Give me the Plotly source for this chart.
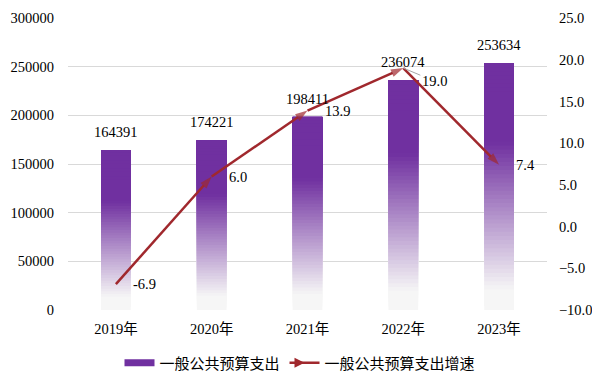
import plotly.graph_objects as go

# ---- data ----
years = ["2019年", "2020年", "2021年", "2022年", "2023年"]
spending = [164391, 174221, 198411, 236074, 253634]
growth = [-6.9, 6.0, 13.9, 19.0, 7.4]
bar_name = "一般公共预算支出"
line_name = "一般公共预算支出增速"

# ---- style ----
PURPLE = (112, 48, 160)
FADE = (246, 246, 246)
RED = "#A0282D"
SERIF = "Liberation Serif, Times New Roman, Noto Sans CJK SC, serif"
CJK = "Noto Sans CJK SC, sans-serif"
FS = 14.5
N = 60  # gradient slices per bar

# page body has an 8px margin: size the figure so it fits the 600x389 window
OFF = 8
W, H = 600 - OFF, 389 - OFF


def slice_color(frac_from_top):
    solid, end = 0.32, 0.92
    if frac_from_top <= solid:
        t = 0.0
    elif frac_from_top >= end:
        t = 1.0
    else:
        t = (frac_from_top - solid) / (end - solid)
    c = [round(PURPLE[i] + (FADE[i] - PURPLE[i]) * t) for i in range(3)]
    return f"rgb({c[0]},{c[1]},{c[2]})"


# each slice runs from its base to the bar top; later slices overlay earlier ones
xs, ys, bases, cols = [], [], [], []
for k in range(N):
    for cat, v in zip(years, spending):
        xs.append(cat)
        ys.append(v * (N - k) / N)
        bases.append(v * k / N)
        cols.append(slice_color(1 - (k + 0.5) / N))

fig = go.Figure()
fig.add_trace(go.Bar(
    x=xs, y=ys, base=bases, width=0.31,
    marker=dict(color=cols, line=dict(width=0)),
    showlegend=False, hoverinfo="skip", yaxis="y",
))

# legend stand-ins
fig.add_trace(go.Scatter(
    x=[None], y=[None], mode="lines", name=bar_name,
    line=dict(color="rgb(112,48,160)", width=7),
))
fig.add_trace(go.Scatter(
    x=[None], y=[None], mode="lines+markers", name=line_name,
    line=dict(color=RED, width=2.5),
    marker=dict(symbol="arrow-right", size=10, color=RED),
    yaxis="y2",
))

# growth line with arrowheads
fig.add_trace(go.Scatter(
    x=years, y=growth, mode="lines+markers", yaxis="y2",
    line=dict(color=RED, width=2.5),
    marker=dict(symbol=["circle"] + ["arrow"] * (len(years) - 1),
                size=[0] + [13] * (len(years) - 1),
                angleref="previous", color=RED, line=dict(width=0)),
    showlegend=False, cliponaxis=False,
))

ann = []
for cat, v in zip(years, spending):
    ann.append(dict(x=cat, y=v, xref="x", yref="y", text=str(v), showarrow=False,
                    yanchor="bottom", yshift=8, font=dict(family=SERIF, size=FS, color="#000")))
for cat, g in zip(years, growth):
    if cat == "2022年":
        ann.append(dict(x=cat, y=g, xref="x", yref="y2", text=f"{g:.1f}", showarrow=True,
                        ax=31, ay=13, arrowhead=0, arrowwidth=1, arrowcolor="#a6a6a6",
                        font=dict(family=SERIF, size=FS, color="#000")))
    else:
        ann.append(dict(x=cat, y=g, xref="x", yref="y2", text=f"{g:.1f}", showarrow=False,
                        xanchor="left", xshift=15, font=dict(family=SERIF, size=FS, color="#000")))

fig.update_layout(
    width=W, height=H,
    margin=dict(l=68 - OFF, r=53, t=18 - OFF, b=79, autoexpand=False),
    paper_bgcolor="white", plot_bgcolor="white",
    barmode="overlay",
    font=dict(family=SERIF, size=FS, color="#000"),
    xaxis=dict(type="category", categoryorder="array", categoryarray=years,
               showline=False, showgrid=False, zeroline=False, automargin=False,
               tickfont=dict(family=SERIF, size=FS, color="#000"),
               ticks="outside", ticklen=6, tickcolor="rgba(0,0,0,0)"),
    yaxis=dict(range=[0, 300000], dtick=50000, tickformat="d",
               showgrid=True, gridcolor="#d9d9d9", gridwidth=1,
               zeroline=False, showline=False, automargin=False,
               ticks="outside", ticklen=10, tickcolor="rgba(0,0,0,0)",
               tickfont=dict(family=SERIF, size=FS, color="#000")),
    yaxis2=dict(range=[-10, 25], dtick=5, tickformat=".1f", overlaying="y", side="right",
                showgrid=False, zeroline=False, showline=False, automargin=False,
                ticks="outside", ticklen=8, tickcolor="rgba(0,0,0,0)",
                tickfont=dict(family=SERIF, size=FS, color="#000")),
    legend=dict(orientation="h", x=(300 - OFF) / W, xanchor="center", xref="container",
                y=1 - (363 - OFF) / H, yanchor="middle", yref="container",
                font=dict(family=CJK, size=15, color="#000"), itemwidth=30,
                traceorder="normal"),
    annotations=ann,
    showlegend=True,
)

fig.write_html("out.html")
